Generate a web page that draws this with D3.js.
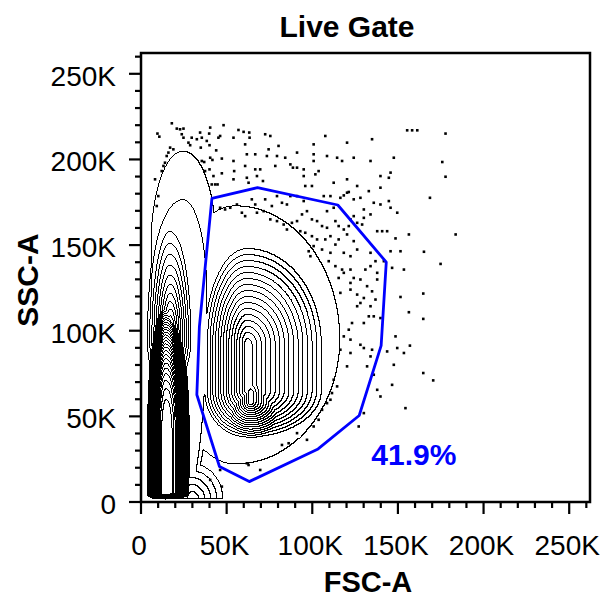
<!DOCTYPE html>
<html>
<head>
<meta charset="UTF-8">
<title>Live Gate</title>
<script src="https://d3js.org/d3.v7.min.js"></script>
<style>
  body { margin: 0; background: #fff; }
  svg { font-family: "Liberation Sans", Arial, sans-serif; }
</style>
</head>
<body>
<svg width="604" height="598"></svg>
<script>
// axis values are in thousands (K)
var axisMax = 262.144;
var majorTicks = [0, 50, 100, 150, 200, 250];
var tickLabels = ["0", "50K", "100K", "150K", "200K", "250K"];
var minorTicks = [10, 20, 30, 40, 60, 70, 80, 90, 110, 120, 130, 140, 160, 170, 180, 190, 210, 220, 230, 240, 260];

// density shape, one entry per blob
// type 0 = peak (height h, falls off as r^p), type 1 = flat plateau of height h out to r = 1
// centre is a vertical segment x = cx, y from cy0 to cy1; scales differ left/right/down/up
// blobs: cells core, cells lower lobe, cells halo, debris dome 1, debris dome 2, debris upper, debris base, valley
var blobType = [0, 0, 1, 1, 1, 0, 0, 0];
var blobCX   = [62, 64, 55, 24.6, 24.6, 17, 14.5, 30];
var blobCY0  = [65, 58, 95, 150, 120, 95, 5, 2];
var blobCY1  = [92, 64, 95, 150, 120, 95, 40, 2];
var blobSL   = [1.56, 1.2, 39, 19, 19, 0.12, 2.7, 3];
var blobSR   = [2.7, 1.5, 61, 19, 13.7, 0.13, 3.4, 3.5];
var blobSD   = [1.7, 1.2, 73, 150, 120, 0.3, 1, 1];
var blobSU   = [3.5, 2, 78, 55, 56.6, 0.69, 20, 4];
var blobH    = [18, 19, 1.5, 1.5, 2.5, 18, 34, 6];
var blobP    = [1, 1, 1, 1, 1, 0.6, 2.5, 1];
// events pile up against the axes
var cutX = 3.5, cutY = 2;

var contourLevels = [1, 2, 3, 4, 5, 6, 7, 8, 9, 10, 11, 12, 13, 14, 15, 16, 17, 18, 19, 20,
  21, 22, 23, 24, 25, 26, 27, 28, 29, 30, 31, 32, 33];

// outlier events outside the lowest contour (FSC-A K, SSC-A K)
var dotX = [18,9.6,10.7,20.9,22.8,24.8,23.8,24.8,29.6,27.7,28.7,32.6,34.5,35.5,40.4,39.8,48.2,45.2,46.2,56.9,
  59.9,63.2,63.4,54,60.8,72.5,75.5,38.4,34.9,40,43.9,17,16,18.9,15,13.1,12.1,14,8.2,10.1,
  9.2,40.4,36.9,41.7,47.2,54,61.8,66.7,60.8,69.6,66.7,54.4,40,47.2,41.3,43.3,44.7,54,61.8,62.8,
  67.7,71.2,74.5,80.3,79.4,73.5,84.2,87.2,78.4,88.7,91.1,95,100.8,91.1,100.8,108.6,114.5,107.6,120.3,100.8,
  117.4,124.2,134,147.6,134.9,155.4,158.3,161.3,177.8,175.9,177.8,168.7,183.7,165.2,174.9,164.8,164.8,156.4,157,164.8,
  170.6,154.4,95,101.8,103.7,95.9,99.8,112.5,120.3,126.2,133,139.8,145.7,139.8,144.7,110.6,118.4,121.3,106.7,124.2,
  128.1,135.9,139.8,144.7,145.7,149.6,130.1,129.1,124.2,122.3,126.2,137.9,140.8,143.7,148.6,151.5,145.7,156.4,153.5,146.6,
  134,136.9,141.8,134,137.9,137.9,131,151.5,134.9,136.9,130.1,134,133,135.9,139.8,130.1,126.2,128.1,122.3,126.2,
  122.3,118.4,115.4,116.4,123.2,121.3,118.4,122.3,128.1,134.9,130.1,134,132,135.9,148.6,149.6,143.7,153.5,147.6,137.9,
  139.8,146.6,127.1,130.1,120.3,122.3,116.4,112.5,114.5,111.5,110.6,108.6,105.7,103.7,100.8,96.9,91.1,86.2,82.3,61.8,
  62.8,69.6,46.2,40.4,47.2,46.2,49.1,52.1,56,58.9,60.8,64.7,66.7,67.7,71.6,72.5,76.4,79.4,82.3,85.2,
  87.2,91.1,95,75.5,79.4,83.3,85.2,88.1,91.1,94,96.9,99.8,102.8,105.7,108.6,113.5,115.4,118.4,121.3,93,
  95.9,99.8,102.8,107.6,110.6,113.5,115.4,120.3,124.2,126.2,122.3,118.4,110.6,105.7,100.8,97.9,98.9,109.6,113.5,117.4,
  122.3,124.2,128.1,132,108.6,112.5,116.4,120.3,130.1,134,35.5,37.4,42.3];
var dotY = [221.1,215.1,213.3,218,217.6,218,214.7,212.7,212.7,209.8,208.3,211.8,215.7,212.7,218.6,215.1,220,212.7,213.7,217.2,
  216.1,215.7,212.7,212.7,208.8,214.7,213.7,210.8,206.9,208.3,205.3,206.9,204,205.9,202,196.2,193.2,198.1,188.4,178.6,
  172.8,201,198.5,199.7,200.5,199.1,203,203,196.2,194.2,194.2,193.2,194.2,191.9,185.4,185.4,185.4,188.4,189.3,186.4,
  190.3,187.4,205.9,207.9,202,202,201,197.1,196.2,195.2,195.2,194.2,208.8,204,203,202,201,213.7,209.8,199.1,
  199.1,201,199.1,201,211.8,217,217,217,215.1,198.5,189.9,177.6,156.2,146.1,139,121.7,106.9,110.8,91.3,75.3,
  71,54.8,190.3,191.3,193.2,184.5,184.5,186.4,188.4,184.5,181.5,183.5,192.3,190.3,189.3,178.6,179,181,178.6,176.7,
  177.6,174.7,173.7,175.7,171.8,168.9,165.9,162,166.9,165,163,158.1,158.1,158.1,153.9,146.4,146.4,156.2,135.7,136.7,
  145.5,140.6,140.6,137.7,133.8,129.9,135.7,119.7,123,118.2,119.1,114.3,108.4,108.4,107.4,104.5,114.3,116.2,124,121.1,
  127.9,133.8,130.8,122.1,104.5,100.6,96.7,94.8,91.8,88.9,89.9,85,79.2,74.3,96.7,89.9,87.9,87,80.1,65.5,
  61.6,68.4,44.1,51.9,79.2,87,88.9,71.4,67.5,63.6,59.7,57.7,53.8,48,44.1,36.3,40.2,34.3,33.3,22.6,
  21.6,18.7,18.7,12.9,9,171.8,170.8,171.8,173.7,168.9,166.9,176.7,173.7,168.9,169.8,176.7,172.8,178.6,174.7,173.7,
  178.6,178.6,175.7,165,164,162,159.1,163,164,167.9,169.8,165,164,161.1,160.1,164,161.1,159.1,161.1,158.1,
  157.2,155.2,153.3,153.3,155.2,150.3,153.3,156.2,152.3,147.4,143.5,145.5,145.5,147.4,149.4,146.4,143.5,140.6,137.7,135.7,
  135.7,130.8,129.9,126,169.8,171.8,177.6,180.6,170.8,167.9,199.1,193.2,190.3];

// live gate polygon
var gateX = [41.4, 68.0, 114.9, 143.2, 140.2, 127.4, 103.4, 63.2, 45.8, 32.6, 34.1];
var gateY = [177.3, 183.5, 173.4, 140.0, 91.3, 50.5, 31.0, 11.9, 20.7, 62.6, 102.6];
var gateLabel = "41.9%";
var gateLabelAt = [134.5, 21.6];

var svg = d3.select("svg");

// set the ranges
var x = d3.scaleLinear().domain([0, axisMax]).range([141, 590]);
var y = d3.scaleLinear().domain([0, axisMax]).range([502, 53]);

svg.append("clipPath").attr("id", "plotclip")
  .append("rect")
  .attr("x", x(0)).attr("y", y(axisMax))
  .attr("width", x(axisMax) - x(0)).attr("height", y(0) - y(axisMax));

var plot = svg.append("g").attr("clip-path", "url(#plotclip)");

// value of one blob at (gx, gy)
function blobValue(k, gx, gy) {
  var dx = gx < blobCX[k] ? (gx - blobCX[k]) / blobSL[k] : (gx - blobCX[k]) / blobSR[k];
  var dy = 0;
  if (gy < blobCY0[k]) dy = (gy - blobCY0[k]) / blobSD[k];
  else if (gy > blobCY1[k]) dy = (gy - blobCY1[k]) / blobSU[k];
  var r = Math.sqrt(dx * dx + dy * dy);
  if (blobType[k] == 1) return r <= 1 ? blobH[k] : 0;
  return blobH[k] - Math.pow(r, blobP[k]);
}

// build the grid, about one cell per screen pixel
var N = 448;
var cell = axisMax / N;
var grid = new Float64Array(N * N);
for (var j = 0; j < N; j++) {
  for (var i = 0; i < N; i++) {
    var gx = (i + 0.5) * cell, gy = (j + 0.5) * cell;
    if (gx < cutX || gy < cutY) continue;
    var v = 0;
    for (var k = 0; k < blobType.length; k++) {
      v = Math.max(v, blobValue(k, gx, gy));
    }
    grid[j * N + i] = v;
  }
}

var contours = d3.contours()
  .size([N, N])
  .smooth(false)
  .thresholds(contourLevels)(grid);

var toScreen = d3.geoTransform({
  point: function(px, py) { this.stream.point(x(px * cell), y(py * cell)); }
});
var path = d3.geoPath(toScreen);

// outlier dots
plot.selectAll(".dot")
  .data(dotX)
  .enter().append("rect")
  .attr("class", "dot")
  .attr("x", function(d, i) { return x(d) - 1.3; })
  .attr("y", function(d, i) { return y(dotY[i]) - 1.3; })
  .attr("width", 2.6)
  .attr("height", 2.6)
  .attr("fill", "#000");

plot.selectAll(".contour")
  .data(contours)
  .enter().append("path")
  .attr("class", "contour")
  .attr("d", path)
  .attr("fill", "none")
  .attr("stroke", "#000")
  .attr("stroke-width", 1)
  .attr("shape-rendering", "crispEdges");

// gate
var gatePts = gateX.map(function(d, i) { return [x(d), y(gateY[i])]; });
plot.append("path")
  .attr("d", d3.line()(gatePts) + "Z")
  .attr("fill", "none")
  .attr("stroke", "#0000ff")
  .attr("stroke-width", 2.8)
  .attr("stroke-linejoin", "round");

svg.append("text")
  .attr("x", x(gateLabelAt[0]))
  .attr("y", y(gateLabelAt[1]))
  .attr("fill", "#0000ff")
  .style("font-size", "30px")
  .style("font-weight", "bold")
  .text(gateLabel);

// frame
svg.append("rect")
  .attr("x", x(0)).attr("y", y(axisMax))
  .attr("width", x(axisMax) - x(0)).attr("height", y(0) - y(axisMax))
  .attr("fill", "none").attr("stroke", "#000").attr("stroke-width", 2.5);

// ticks
var tk = svg.append("g").attr("stroke", "#000").attr("stroke-width", 2.2);
majorTicks.forEach(function(t) {
  tk.append("line").attr("x1", x(t)).attr("x2", x(t)).attr("y1", y(0)).attr("y2", y(0) + 12);
  tk.append("line").attr("y1", y(t)).attr("y2", y(t)).attr("x1", x(0)).attr("x2", x(0) - 12);
});
minorTicks.forEach(function(t) {
  tk.append("line").attr("x1", x(t)).attr("x2", x(t)).attr("y1", y(0)).attr("y2", y(0) + 6);
  tk.append("line").attr("y1", y(t)).attr("y2", y(t)).attr("x1", x(0)).attr("x2", x(0) - 6);
});

// tick labels
svg.selectAll(".xlab")
  .data(majorTicks)
  .enter().append("text")
  .attr("class", "xlab")
  .attr("x", function(d) { return x(d) - 2; })
  .attr("y", 555)
  .attr("text-anchor", "middle")
  .style("font-size", "28px")
  .text(function(d, i) { return tickLabels[i]; });

svg.selectAll(".ylab")
  .data(majorTicks)
  .enter().append("text")
  .attr("class", "ylab")
  .attr("x", 116)
  .attr("y", function(d) { return y(d) + 12; })
  .attr("text-anchor", "end")
  .style("font-size", "28px")
  .text(function(d, i) { return tickLabels[i]; });

// titles
svg.append("text")
  .attr("x", 347).attr("y", 37)
  .attr("text-anchor", "middle")
  .style("font-size", "30px").style("font-weight", "bold")
  .text("Live Gate");

svg.append("text")
  .attr("x", 368).attr("y", 592)
  .attr("text-anchor", "middle")
  .style("font-size", "29px").style("font-weight", "bold")
  .text("FSC-A");

svg.append("text")
  .attr("transform", "translate(38,280) rotate(-90)")
  .attr("text-anchor", "middle")
  .style("font-size", "30px").style("font-weight", "bold")
  .text("SSC-A");
</script>
</body>
</html>
